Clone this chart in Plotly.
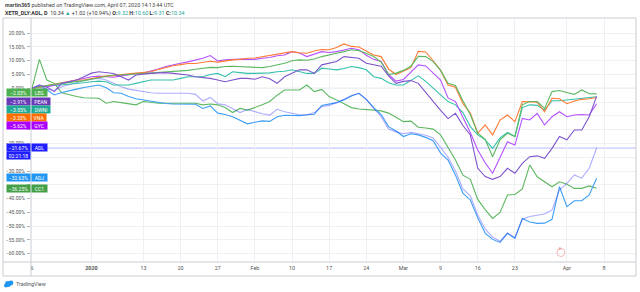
import plotly.graph_objects as go

# ---------------- data ----------------
days = list(range(77))  # trading-day index, Dec 16 2019 .. Apr 7 2020 (XETR)
date_tick_idx = [0, 8, 15, 20, 25, 30, 35, 40, 45, 50, 55, 60, 65, 72, 77]
date_tick_txt = ["6", "<b>2020</b>", "13", "20", "27", "Feb", "10", "17", "24",
                 "Mar", "9", "16", "23", "Apr", "8"]
pct_ticks = [20, 15, 10, 5, 0, -5, -10, -15, -20, -25, -30, -35, -40, -45, -50, -55, -60]
# labels hidden behind the price-scale boxes are left blank, as in the original
pct_txt = ["20.00%", "15.00%", "10.00%", "5.00%", "0.00%", "", "",
           "", "\u221220.00%", "", "\u221230.00%", "",
           "\u221240.00%", "\u221245.00%", "\u221250.00%", "\u221255.00%", "\u221260.00%"]

LEG = [0, 0.5, 1.2, 1.5, 1.8, 2.1, 2.4, 2.8, 3.3, 3.8,
       4.3, 4.8, 4.8, 5.0, 5.2, 5.4, 5.5, 5.6, 5.8, 6.0,
       6.2, 6.5, 6.9, 7.2, 7.6, 7.5, 7.9, 8.0, 7.9, 7.9,
       7.7, 7.5, 7.9, 8.5, 9.1, 10.0, 10.3, 10.2, 10.6, 11.5,
       12.0, 12.7, 13.3, 14.0, 13.6, 12.7, 11.5, 9.5, 5.0, 5.5,
       6.5, 8.0, 11.6, 11.5, 9.7, 6.5, 1.8, 1.0, -4.5, -9.5,
       -16.3, -18.5, -24.8, -18.7, -16.3, -17.5, -6.0, -4.8, -4.8, -7.3,
       -1.2, -0.8, -1.5, -2.2, -0.6, -2.0, -2.03]
PEAN = [0, 1.2, 0.5, -1.2, 1.8, 2.5, 3.0, 4.2, 5.5, 6.0,
        5.6, 5.4, 4.2, 3.0, 4.8, 5.2, 5.4, 5.6, 5.7, 5.4,
        5.2, 4.8, 4.2, 4.0, 3.6, 3.0, 2.4, 3.0, 3.6, 3.6,
        3.3, 4.2, 3.5, 1.8, 4.2, 5.5, 6.7, 6.7, 5.4, 8.5,
        9.1, 9.7, 11.5, 11.2, 10.9, 9.1, 8.5, 8.0, 4.5, 1.8,
        2.5, 2.8, 1.8, -1.5, -5.0, -8.0, -11.0, -9.1, -13.5, -16.9,
        -29.0, -32.0, -33.0, -32.0, -29.0, -30.8, -27.2, -24.8, -24.5, -25.4,
        -21.8, -17.5, -18.7, -15.1, -15.1, -10.3, -2.91]
DWNI = [0, 0.5, 0.8, 1.0, 1.2, 1.5, 1.8, 2.0, 2.4, 2.6,
        2.4, 1.2, 1.2, 1.2, 1.8, 2.4, 3.0, 3.0, 3.0, 3.0,
        3.6, 4.2, 4.2, 4.2, 5.0, 5.4, 4.2, 6.0, 5.7, 5.4,
        5.4, 5.4, 5.6, 6.0, 6.2, 6.7, 6.0, 5.4, 5.4, 7.3,
        7.0, 6.7, 7.2, 7.9, 7.5, 6.7, 4.2, 3.6, 2.0, 1.2,
        1.2, 2.8, 4.5, 2.5, 0.0, -2.5, -4.8, -6.0, -8.8, -13.9,
        -16.9, -18.7, -21.8, -18.0, -16.0, -17.5, -7.0, -6.0, -6.2, -7.9,
        -4.5, -4.5, -4.2, -4.0, -3.8, -3.5, -3.05]
VNA = [0, 0.3, 1.0, 1.5, 2.2, 2.6, 3.0, 3.0, 3.5, 4.0,
       4.5, 4.6, 5.0, 5.3, 5.5, 5.8, 6.0, 6.8, 7.5, 8.2,
       8.6, 9.0, 9.0, 9.3, 9.8, 9.5, 10.0, 10.3, 10.5, 10.9,
       11.0, 11.5, 11.8, 12.5, 12.8, 13.3, 12.9, 12.7, 13.5, 14.1,
       14.0, 14.8, 16.1, 15.2, 15.0, 13.5, 12.1, 11.5, 7.0, 5.0,
       6.2, 7.5, 13.4, 13.2, 10.0, 6.5, 1.2, 0.4, -5.5, -9.0,
       -16.3, -13.3, -16.9, -11.5, -9.7, -12.1, -4.8, -4.8, -5.0, -8.5,
       -3.6, -3.8, -5.6, -4.6, -4.0, -3.8, -3.33]
GYC = [0, 0.8, 0.5, 1.2, 1.8, 2.4, 3.0, 3.5, 4.2, 4.4,
       4.2, 4.0, 4.5, 5.0, 5.3, 5.5, 6.2, 7.0, 7.9, 8.6,
       9.1, 9.6, 10.3, 10.9, 11.9, 9.9, 10.3, 10.5, 10.6, 10.5,
       10.5, 10.9, 11.2, 11.8, 12.1, 13.3, 12.8, 11.5, 12.5, 13.3,
       13.0, 13.3, 13.9, 14.5, 14.0, 12.0, 10.5, 9.7, 5.0, 2.6,
       3.2, 6.0, 8.5, 8.1, 5.4, 3.0, -3.5, -4.8, -10.5, -16.0,
       -22.4, -27.0, -30.8, -25.0, -19.4, -20.6, -10.9, -11.5, -9.1, -13.3,
       -10.3, -8.5, -10.3, -9.7, -9.5, -9.7, -5.62]
ADL = [0, 0.3, -0.3, -0.8, 0.6, 1.2, 2.0, 2.8, 3.4, 3.6,
       3.0, 1.8, 0.6, -0.3, -0.8, -1.2, -1.6, -1.8, -1.8, -1.6,
       -1.7, -1.8, -2.2, -4.6, -3.3, -5.6, -6.0, -7.5, -8.8, -7.7,
       -8.5, -9.2, -9.7, -7.6, -8.5, -9.1, -9.6, -9.7, -8.8, -6.7,
       -6.2, -5.2, -3.8, -2.6, -1.8, -4.0, -7.3, -10.3, -14.8, -15.8,
       -16.5, -16.0, -16.5, -17.0, -18.0, -21.5, -25.0, -30.0, -36.5, -39.0,
       -46.0, -51.0, -54.0, -55.5, -52.5, -54.2, -47.5, -46.5, -46.0, -45.6,
       -44.1, -36.9, -34.5, -31.4, -32.6, -29.0, -21.67]
ADJ = [0, 1.2, -0.5, -2.4, -1.5, -1.0, -0.3, 0.3, 0.8, 1.2,
       0.2, -1.6, -1.8, -3.0, -3.8, -4.2, -4.8, -5.2, -5.5, -5.7,
       -5.7, -5.7, -5.8, -7.3, -6.4, -9.0, -9.5, -10.3, -11.5, -12.9,
       -12.3, -11.8, -12.0, -10.3, -9.8, -9.9, -9.9, -9.6, -9.4, -6.2,
       -5.8, -5.2, -4.2, -2.8, -1.8, -4.0, -7.0, -9.5, -13.9, -15.5,
       -17.5, -16.5, -16.9, -17.8, -19.0, -23.5, -26.0, -31.5, -38.0, -40.5,
       -47.0, -52.5, -54.8, -55.9, -52.6, -54.4, -47.2, -48.5, -49.0, -48.9,
       -47.5, -35.7, -42.9, -40.8, -40.8, -38.7, -32.63]
CC1 = [0, 10.5, 3.0, 1.8, -1.6, -2.4, -3.0, -3.4, -3.6, -3.6,
       -5.4, -4.8, -5.2, -5.7, -6.0, -4.8, -5.2, -5.4, -5.4, -5.4,
       -5.4, -5.4, -5.4, -6.0, -5.7, -6.0, -7.0, -8.8, -7.3, -7.9,
       -7.0, -6.0, -4.8, -2.5, -0.6, -0.6, -0.6, 1.2, -1.2, -0.4,
       -3.0, -4.2, -5.5, -7.0, -7.5, -7.6, -7.9, -8.2, -9.0, -10.5,
       -12.1, -11.9, -14.1, -14.4, -14.8, -16.9, -21.5, -26.0, -31.5, -33.0,
       -40.3, -44.0, -47.2, -45.0, -38.7, -38.5, -36.5, -27.8, -32.1, -33.9,
       -35.7, -33.9, -34.8, -36.3, -36.3, -35.4, -36.25]

series_names = ["CC1", "ADJ", "ADL", "DWNI", "GYC", "VNA", "LEG", "PEAN"]
series_values = [CC1, ADJ, ADL, DWNI, GYC, VNA, LEG, PEAN]
line_colors = {"CC1": "#5cb860", "ADJ": "#3d9ff5", "ADL": "rgba(60,60,255,0.42)",
               "DWNI": "#35c0aa", "GYC": "#b550ff", "VNA": "#ff7a33",
               "LEG": "#5cb860", "PEAN": "#7e55cc"}

# price-scale labels: (value text, name, colour, label slot in % units, name-box width)
label_vals = ["\u22122.03%", "\u22122.91%", "\u22123.05%", "\u22123.33%", "\u22125.62%",
              "\u221221.67%", "02:21:18", "\u221232.63%", "\u221236.25%"]
label_names = ["LEG", "PEAN", "DWNI", "VNA", "GYC", "ADL", "", "ADJ", "CC1"]
label_colors = ["#4caf50", "#673ab7", "#22ab94", "#ff6d00", "#aa00ff",
                "#1e1eff", "#1e1eff", "#2196f3", "#43a047"]
label_slots = [-1.7, -4.8, -7.7, -10.6, -13.5, -21.6, -24.3, -32.3, -36.4]
name_widths = [15, 18, 18, 14, 15, 15, 0, 15, 15]
last_close = -21.67

# ---------------- figure ----------------
FONT = "Roboto"
fig = go.Figure()
for nm, vals in zip(series_names, series_values):
    fig.add_trace(go.Scatter(x=days[:len(vals)], y=vals, mode="lines", name=nm,
                             line=dict(color=line_colors[nm], width=1.1),
                             hoverinfo="skip", showlegend=False))

# zero baseline and last price line
fig.add_hline(y=0, line=dict(color="#cfd2d8", width=1), layer="below")
fig.add_hline(y=last_close, line=dict(color="#b8b8ff", width=1), layer="below")

# frame lines (paper coords)
L = -28 / 605.0
B = -14 / 244.0
frame = dict(color="#c9ccd2", width=1)
for x0, y0, x1, y1 in [(L, 1, 1, 1), (L, 0, 1, 0), (L, B, 1, B),
                       (L, B, L, 1), (0, B, 0, 1), (1, B, 1, 1)]:
    fig.add_shape(type="line", xref="paper", yref="paper", x0=x0, y0=y0, x1=x1, y1=y1,
                  line=frame, layer="above")

anns = []
for v, nm, col, slot, w in zip(label_vals, label_names, label_colors, label_slots, name_widths):
    anns.append(dict(xref="paper", yref="y", x=0, y=slot, xanchor="right", yanchor="middle",
                     text=v, showarrow=False, bgcolor=col, width=23, height=7, borderpad=0,
                     font=dict(family=FONT, size=5, color="white")))
    if nm:
        anns.append(dict(xref="paper", yref="y", x=0, y=slot, xanchor="left", yanchor="middle",
                         text=nm, showarrow=False, bgcolor=col, width=w, height=7, borderpad=0,
                         font=dict(family=FONT, size=5, color="white")))

teal = "#26a69a"
anns.append(dict(xref="paper", yref="paper", x=L, y=(262 - 5) / 244.0, xanchor="left",
                 yanchor="middle", showarrow=False,
                 text="<b>martin365</b> published on TradingView.com, April 07, 2020 14:13:44 UTC",
                 font=dict(family=FONT, size=5.4, color="#444")))
anns.append(dict(xref="paper", yref="paper", x=L, y=(262 - 13.5) / 244.0, xanchor="left",
                 yanchor="middle", showarrow=False,
                 text=("<b>XETR_DLY:ADL, D</b>  10.34 <span style='color:%s'>\u25b2</span> +1.02 (+10.94%%) "
                       "<b>O:</b><span style='color:%s'>9.32</span> <b>H:</b><span style='color:%s'>10.60</span> "
                       "<b>L:</b><span style='color:%s'>9.31</span> <b>C:</b><span style='color:%s'>10.34</span>")
                 % (teal, teal, teal, teal, teal),
                 font=dict(family=FONT, size=5.4, color="#333")))
anns.append(dict(xref="paper", yref="paper", x=(14 - 31) / 605.0, y=(262 - 284) / 244.0,
                 xanchor="left", yanchor="middle", showarrow=False, text="TradingView",
                 font=dict(family=FONT, size=5.4, color="#555")))
# earnings marker
anns.append(dict(xref="x", yref="paper", x=71.2, y=(262 - 252.5) / 244.0, showarrow=False,
                 text="E", font=dict(family=FONT, size=4, color="#e57373")))
fig.add_shape(type="circle", xref="x", yref="paper", xsizemode="pixel", ysizemode="pixel",
              xanchor=71.2, yanchor=(262 - 252.5) / 244.0, x0=-4, x1=4, y0=-4, y1=4,
              line=dict(color="#f2a5a5", width=0.8))
# logo cloud
for cx, cy, r in [(8, 284, 3), (11, 283, 2.4), (6, 285.5, 2)]:
    fig.add_shape(type="circle", xref="paper", yref="paper",
                  x0=(cx - r - 31) / 605.0, x1=(cx + r - 31) / 605.0,
                  y0=(262 - cy - r) / 244.0, y1=(262 - cy + r) / 244.0,
                  fillcolor="#2196f3", line=dict(width=0))

fig.update_layout(
    width=640, height=292, autosize=False,
    margin=dict(l=31, r=4, t=18, b=30),
    paper_bgcolor="white", plot_bgcolor="white",
    annotations=anns,
    xaxis=dict(range=[-0.13, 81.3], tickmode="array", tickvals=date_tick_idx,
               ticktext=date_tick_txt, showgrid=True, gridcolor="#eef0f4", gridwidth=1,
               zeroline=False, showline=False, ticks="", ticklabelstandoff=2,
               tickfont=dict(family=FONT, size=5.4, color="#555"), fixedrange=True),
    yaxis=dict(range=[-63.0, 25.5], tickmode="array", tickvals=pct_ticks, ticktext=pct_txt,
               showgrid=True, gridcolor="#eef0f4", gridwidth=1, zeroline=False,
               showline=False, ticks="outside", ticklen=3, tickcolor="#b0b3b8",
               ticklabelstandoff=1,
               tickfont=dict(family=FONT, size=5, color="#555"), fixedrange=True),
)

fig.write_html("out.html")
